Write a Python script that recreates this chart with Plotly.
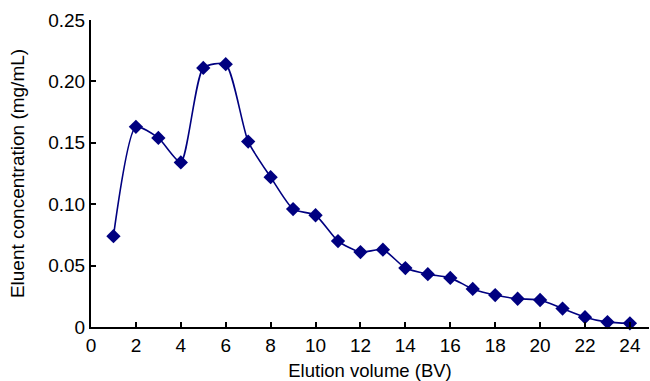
import plotly.graph_objects as go

volume_bv = list(range(1, 25))
concentration = [0.074, 0.163, 0.154, 0.134, 0.211, 0.214, 0.151, 0.122,
                 0.096, 0.091, 0.070, 0.061, 0.063, 0.048, 0.043, 0.040,
                 0.031, 0.026, 0.023, 0.022, 0.015, 0.008, 0.004, 0.003]
x_ticks = list(range(0, 25, 2))
y_ticks = [0, 0.05, 0.10, 0.15, 0.20, 0.25]
y_tick_text = ["0", "0.05", "0.10", "0.15", "0.20", "0.25"]

fig = go.Figure()
fig.add_trace(go.Scatter(
    x=volume_bv, y=concentration, mode="lines+markers",
    line=dict(color="#000080", width=1.6, shape="spline", smoothing=0.6),
    marker=dict(symbol="diamond", size=11, color="#000080"),
    showlegend=False, cliponaxis=False,
))

font = "Liberation Sans, Arial, Helvetica, sans-serif"
fig.update_layout(
    width=650, height=381,
    margin=dict(l=91, r=1, t=20, b=54),
    paper_bgcolor="white", plot_bgcolor="white",
    font=dict(family=font, size=18, color="black"),
)
fig.update_xaxes(
    range=[0, 24.85], tickvals=x_ticks, ticks="inside", ticklen=5, tickwidth=2,
    tickcolor="black", showline=True, linecolor="black", linewidth=2,
    showgrid=False, zeroline=False, tickfont=dict(size=19), automargin=False,
    title=dict(text="Elution volume (BV)", font=dict(size=18.5), standoff=12),
)
fig.update_yaxes(
    range=[0, 0.25], tickvals=y_ticks, ticktext=y_tick_text, ticks="inside",
    ticklen=5, tickwidth=2, tickcolor="black", showline=True, linecolor="black",
    linewidth=2, showgrid=False, zeroline=False, tickfont=dict(size=19),
    automargin=False,
    title=dict(text="Eluent concentration (mg/mL)", font=dict(size=19), standoff=19),
)
fig.write_html(
    "out.html",
    config={"displayModeBar": False},
    post_script="document.body.style.margin='0px';document.body.style.overflow='hidden';",
)
